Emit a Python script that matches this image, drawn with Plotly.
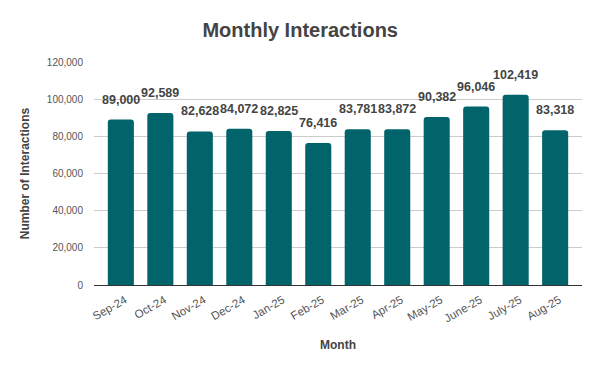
import plotly.graph_objects as go

months = ["Sep-24", "Oct-24", "Nov-24", "Dec-24", "Jan-25", "Feb-25", "Mar-25",
          "Apr-25", "May-25", "June-25", "July-25", "Aug-25"]
interactions = [89000, 92589, 82628, 84072, 82825, 76416, 83781, 83872, 90382, 96046, 102419, 83318]
y_ticks = [0, 20000, 40000, 60000, 80000, 100000, 120000]

FONT = "Liberation Sans, Arial, sans-serif"

fig = go.Figure()
fig.add_trace(go.Bar(
    x=months, y=interactions,
    marker=dict(color="#00646A", line=dict(width=0), cornerradius=3),
    hoverinfo="x+y",
))

for m, v in zip(months, interactions):
    fig.add_annotation(
        x=m, y=v, text=f"<b>{v:,}</b>", showarrow=False,
        xanchor="center", yanchor="bottom", yshift=11,
        font=dict(family=FONT, size=12.5, color="#444444"),
    )

fig.update_layout(
    width=600, height=371,
    margin=dict(l=86, r=26, t=54, b=94),
    paper_bgcolor="white", plot_bgcolor="white",
    font=dict(family=FONT, color="#444444"),
    title=dict(text="<b>Monthly Interactions</b>", x=0.487, xanchor="center", y=0.94, yanchor="middle",
               font=dict(size=20, color="#444444")),
    bargap=0.34,
    showlegend=False,
    xaxis=dict(title=dict(text="<b>Month</b>", font=dict(size=12), standoff=17),
               range=[-0.68, 11.68],
               tickangle=-30, tickfont=dict(size=11.5, color="#555555"),
               ticklabelshift=4,
               showline=True, linecolor="#333333", linewidth=1,
               ticks="outside", ticklen=3, tickcolor="rgba(0,0,0,0)"),
    yaxis=dict(title=dict(text="<b>Number of Interactions</b>", font=dict(size=12), standoff=14),
               range=[0, 120000], tickvals=y_ticks, tickformat=",",
               tickfont=dict(size=10, color="#555555"),
               ticks="outside", ticklen=8, tickcolor="rgba(0,0,0,0)",
               showgrid=True, gridcolor="#cccccc", gridwidth=1, zeroline=False),
)

fig.write_html("out.html")
